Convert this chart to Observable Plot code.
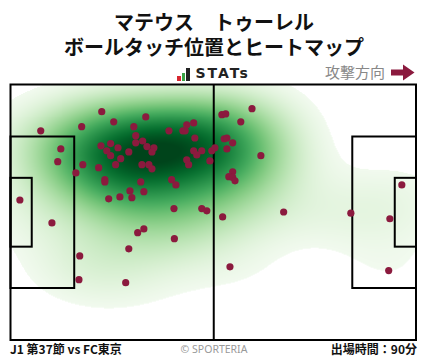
<!DOCTYPE html>
<html>
<head>
<meta charset="utf-8">
<script src="https://cdn.jsdelivr.net/npm/d3@7"></script>
<script src="https://cdn.jsdelivr.net/npm/@observablehq/plot@0.6"></script>
<style>
  html, body { margin: 0; padding: 0; background: #fff; }
  #wrap { position: relative; width: 428px; height: 359px; overflow: hidden;
          font-family: "Noto Sans CJK JP", "Noto Sans", sans-serif; color: #111; }
  .abs { position: absolute; white-space: nowrap; }
  #title { left: 0; top: 8.5px; width: 428px; text-align: center; font-weight: 700; font-size: 20px; line-height: 25px; }
  #logo { left: 177px; top: 64px; height: 17px; display: flex; align-items: flex-end; }
  #logo .bar { width: 3.5px; margin-right: 1px; }
  #logo .txt { font-family: "DejaVu Sans", sans-serif; font-weight: 700; font-size: 14px; line-height: 15px;
               letter-spacing: 2px; margin-left: 5px; color: #222; }
  #dir { left: 325px; top: 62px; font-size: 15px; line-height: 20px; color: #888; }
  #arrow { left: 390px; top: 63px; }
  #chart { left: 0; top: 80px; }
  #fl { left: 10px; top: 340px; font-weight: 700; font-size: 12px; line-height: 18px; }
  #fc { left: 0; width: 428px; text-align: center; top: 341px; font-size: 10.5px; line-height: 16px; color: #999;
        font-family: "Noto Sans", sans-serif; }
  #fr { right: 11px; top: 340px; font-weight: 700; font-size: 12px; line-height: 18px; }
</style>
</head>
<body>
<div id="wrap">
  <div id="title" class="abs">マテウス　トゥーレル<br>ボールタッチ位置とヒートマップ</div>
  <div id="logo" class="abs">
    <div class="bar" style="height:5px;background:#d7262f"></div>
    <div class="bar" style="height:8px;background:#3aa345"></div>
    <div class="bar" style="height:13px;background:#222"></div>
    <div class="txt">STATs</div>
  </div>
  <div id="dir" class="abs">攻撃方向</div>
  <svg id="arrow" class="abs" width="26" height="20" viewBox="0 0 26 20">
    <path d="M1 6.5 H13 V1.5 L24.5 9.5 L13 17.5 V12.5 H1 Z" fill="#8b1a3e"/>
  </svg>
  <div id="chart" class="abs"></div>
  <div id="fl" class="abs">J1 第37節 vs FC東京</div>
  <div id="fc" class="abs">© SPORTERIA</div>
  <div id="fr" class="abs">出場時間：90分</div>
</div>
<script>
// Pitch dimensions (metres)
const pitchLength = 105;
const pitchWidth = 68;

// Ball touch positions (metres from left goal line; y measured from top touchline)
const touchX = [
  23.5, 26.6, 34.9, 31.8, 32.3, 32.3, 34.1, 40.9, 44.5, 45.1,
  45.5, 47.3, 47.6, 23.3, 25.8, 24.8, 27.7, 25.8, 30.5, 28.4,
  35.2, 37.0, 36.5, 47.3, 49.4, 48.1, 45.5, 46.0, 51.5, 52.0,
  52.8, 27.1, 33.9, 35.7, 36.5, 22.7, 18.6, 16.8, 24.3, 24.3,
  33.6, 41.6, 42.7, 30.8, 34.4, 28.2, 31.3, 25.3, 42.2, 49.4,
  50.7, 54.8, 7.7, 18.3, 12.9, 12.1, 2.3, 10.6, 32.8, 34.4,
  42.3, 17.8, 30.5, 17.6, 29.7, 54.6, 55.6, 62.4, 59.5, 55.2,
  55.9, 57.4, 55.9, 64.7, 57.4, 56.4, 57.4, 58.0, 70.6, 88.0,
  101.2, 98.1, 56.7, 97.8
];
const touchY = [
  7.1, 9.8, 8.5, 11.1, 13.5, 15.4, 14.9, 12.2, 12.2, 12.2,
  10.6, 10.1, 14.1, 16.2, 15.6, 17.5, 16.7, 18.8, 17.8, 19.6,
  16.4, 16.7, 17.8, 17.5, 17.5, 18.6, 19.9, 21.2, 20.2, 17.5,
  16.7, 21.2, 21.2, 21.2, 22.3, 22.0, 21.2, 23.4, 25.2, 25.8,
  25.8, 25.2, 26.6, 28.2, 28.4, 29.8, 30.0, 30.3, 32.9, 32.9,
  33.5, 35.1, 12.2, 11.1, 17.0, 20.4, 30.6, 36.7, 39.3, 38.3,
  40.9, 45.5, 43.6, 51.8, 52.6, 7.9, 7.7, 6.3, 9.8, 14.3,
  14.1, 15.4, 17.0, 18.8, 23.1, 24.4, 24.6, 25.5, 33.8, 34.1,
  26.6, 35.6, 48.4, 49.4
];

const touches = touchX.map((x, i) => ({x, y: touchY[i]}));

// Pitch markings: outline, penalty areas, goal areas
const boxX1 = [0, 0, 0, 88.5, 99.5];
const boxX2 = [105, 16.5, 5.5, 105, 105];
const boxY1 = [0, 13.84, 24.84, 13.84, 24.84];
const boxY2 = [68, 54.16, 43.16, 54.16, 43.16];
const boxes = boxX1.map((x1, i) => ({x1, x2: boxX2[i], y1: boxY1[i], y2: boxY2[i]}));

// --- Gaussian KDE of the touches (Scott's rule, full covariance) ---
const bwAdjust = 1.3;
const massThresh = 0.05;   // lowest 5% of probability mass left blank
const n = touches.length;
const mx = d3.mean(touchX), my = d3.mean(touchY);
let sxx = 0, syy = 0, sxy = 0;
for (const p of touches) {
  const dx = p.x - mx, dy = p.y - my;
  sxx += dx * dx; syy += dy * dy; sxy += dx * dy;
}
const fac = Math.pow(n, -1 / 6) * bwAdjust;
const cxx = sxx / (n - 1) * fac * fac, cyy = syy / (n - 1) * fac * fac, cxy = sxy / (n - 1) * fac * fac;
const det = cxx * cyy - cxy * cxy;
const ixx = cyy / det, iyy = cxx / det, ixy = -cxy / det;
function kde(x, y) {
  let s = 0;
  for (let i = 0; i < n; ++i) {
    const dx = x - touchX[i], dy = y - touchY[i];
    s += Math.exp(-0.5 * (ixx * dx * dx + 2 * ixy * dx * dy + iyy * dy * dy));
  }
  return s;
}
// density level enclosing (1 - massThresh) of the mass, on a wide grid
const gridVals = [];
for (let gx = -40; gx <= 145; gx += 1) for (let gy = -30; gy <= 98; gy += 1) gridVals.push(kde(gx, gy));
gridVals.sort((a, b) => b - a);
const total = d3.sum(gridVals);
let acc = 0, level = gridVals[gridVals.length - 1];
for (const v of gridVals) { acc += v; if (acc >= (1 - massThresh) * total) { level = v; break; } }
const dMax = gridVals[0];
const dLow = level * 0.6;

const chart = Plot.plot({
  width: 428,
  height: 266,
  marginTop: 4.5,
  marginBottom: 6,
  marginLeft: 10.5,
  marginRight: 12,
  x: {domain: [0, pitchLength], axis: null},
  y: {domain: [0, pitchWidth], reverse: true, axis: null},
  color: {type: "pow", exponent: 0.7, scheme: "greens", domain: [dLow, dMax * 0.97]},
  style: {background: "transparent", overflow: "visible"},
  marks: [
    Plot.raster({
      x1: 0, x2: pitchLength, y1: 0, y2: pitchWidth, pixelSize: 1,
      fill: (x, y) => { const d = kde(x, y); return d < level ? NaN : d; }
    }),
    Plot.rect(boxes, {x1: "x1", x2: "x2", y1: "y1", y2: "y2", fill: "none", stroke: "#000", strokeWidth: 2}),
    Plot.ruleX([pitchLength / 2], {y1: 0, y2: pitchWidth, stroke: "#000", strokeWidth: 2}),
    Plot.dot(touches, {x: "x", y: "y", r: 3.6, fill: "#8b1a3e", stroke: "none"})
  ]
});
document.getElementById("chart").appendChild(chart);
</script>
</body>
</html>
